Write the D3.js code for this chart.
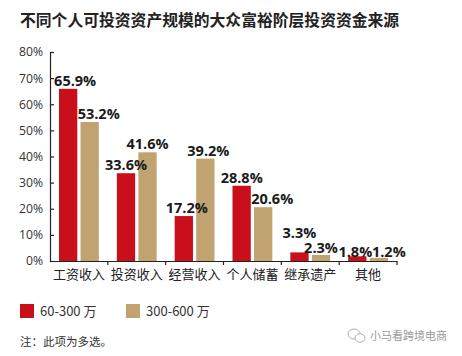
<!DOCTYPE html>
<html><head><meta charset="utf-8">
<script src="https://cdn.jsdelivr.net/npm/d3@7"></script>
<style>
html,body{margin:0;padding:0;background:#fff;}
svg{display:block;}
</style></head>
<body>
<script>
const title = "不同个人可投资资产规模的大众富裕阶层投资资金来源";
const categories = ["工资收入","投资收入","经营收入","个人储蓄","继承遗产","其他"];
const seriesNames = ["60-300 万","300-600 万"];
const series1 = [65.9, 33.6, 17.2, 28.8, 3.3, 1.8];
const series2 = [53.2, 41.6, 39.2, 20.6, 2.3, 1.2];
const yTicks = [0,10,20,30,40,50,60,70,80];
const note = "注：此项为多选。";
const watermark = "小马看跨境电商";

// label nudges (px) as placed in the reference
const nudgeX = [[7,0,3,0,0,-2],[9,0,3,9,0,10]];
const nudgeY = [[0,0,0,0,-11,4],[0,0,0,0,1.5,2.6]];

const colors = ["#c80f1a", "#c0a371"];
const W = 462, H = 356;
const svg = d3.select("body").append("svg").attr("width", W).attr("height", H);
const cjk = "'Noto Sans CJK SC','Noto Sans',sans-serif";
const num = "'Open Sans','Noto Sans',sans-serif";

svg.append("text").attr("x", 20).attr("y", 26)
  .attr("font-family", cjk).attr("font-size", 15.8).attr("font-weight", 700)
  .attr("fill", "#222").text(title);

const x = d3.scaleBand().domain(categories).range([50, 397]).padding(0);
const xs = d3.scaleBand().domain([0,1]).range([9, x.bandwidth() - 9]).paddingInner(0.15);
const y = d3.scaleLinear().domain([0, 80]).range([261, 52]);

const data = categories.map((c, i) => ({c, i, vals: [series1[i], series2[i]]}));

// bars
const g = svg.append("g");
const groups = g.selectAll("g.grp").data(data).join("g").attr("class","grp")
  .attr("transform", d => `translate(${x(d.c)},0)`);
groups.selectAll("rect").data(d => d.vals.map((v, k) => ({v, k, i: d.i})))
  .join("rect")
  .attr("x", d => xs(d.k)).attr("width", xs.bandwidth())
  .attr("y", d => y(d.v)).attr("height", d => y(0) - y(d.v))
  .attr("fill", d => colors[d.k]);

// y axis
const yAxis = d3.axisLeft(y).tickValues(yTicks).tickFormat(d => d + "%")
  .tickSizeInner(-4).tickSizeOuter(-4).tickPadding(7);
const ya = svg.append("g").attr("transform", "translate(50,0)").call(yAxis);
ya.selectAll("path,line").attr("stroke", "#222").attr("stroke-width", 1.2);
ya.selectAll("text").attr("font-family", num).attr("font-size", 12.2).attr("fill", "#333");

// x axis
const xAxis = d3.axisBottom(x).tickSize(0).tickPadding(9);
const xa = svg.append("g").attr("transform", "translate(0,261)").call(xAxis);
xa.select("path").attr("stroke", "#222").attr("stroke-width", 1.2);
xa.selectAll("text").attr("font-family", cjk).attr("font-size", 13).attr("fill", "#222");
// boundary ticks
xa.selectAll("line.bd").data(categories).join("line").attr("class","bd")
  .attr("x1", d => x(d) + x.bandwidth()).attr("x2", d => x(d) + x.bandwidth())
  .attr("y1", 0).attr("y2", 4).attr("stroke", "#222").attr("stroke-width", 1.2);

// value labels
groups.selectAll("text.val").data(d => d.vals.map((v, k) => ({v, k, i: d.i})))
  .join("text").attr("class","val")
  .attr("x", d => xs(d.k) + xs.bandwidth()/2 + nudgeX[d.k][d.i])
  .attr("y", d => y(d.v) - 3 + nudgeY[d.k][d.i])
  .attr("text-anchor", "middle")
  .attr("font-family", num).attr("font-size", 14.5).attr("font-weight", 700)
  .attr("fill", "#1a1a1a")
  .text(d => d.v.toFixed(1) + "%");

// legend
const legX = [20, 126];
const leg = svg.append("g").selectAll("g").data(seriesNames).join("g")
  .attr("transform", (d, i) => `translate(${legX[i]},304)`);
leg.append("rect").attr("width", 14).attr("height", 14).attr("fill", (d, i) => colors[i]);
leg.append("text").attr("x", 20).attr("y", 12)
  .attr("font-family", cjk).attr("font-size", 13).attr("fill", "#333").text(d => d);

// note
svg.append("text").attr("x", 20).attr("y", 346)
  .attr("font-family", cjk).attr("font-size", 11.5).attr("fill", "#333").text(note);

// watermark
const wm = svg.append("g").attr("transform", "translate(347,329)");
wm.append("ellipse").attr("cx", 7).attr("cy", 5).attr("rx", 6).attr("ry", 5)
  .attr("fill", "none").attr("stroke", "#b0b0b0").attr("stroke-width", 1);
wm.append("ellipse").attr("cx", 13).attr("cy", 9).attr("rx", 5).attr("ry", 4.2)
  .attr("fill", "#fff").attr("stroke", "#b0b0b0").attr("stroke-width", 1);
svg.append("text").attr("x", 370).attr("y", 340)
  .attr("font-family", cjk).attr("font-size", 11).attr("fill", "#9a9a9a").text(watermark);
</script>
</body></html>
